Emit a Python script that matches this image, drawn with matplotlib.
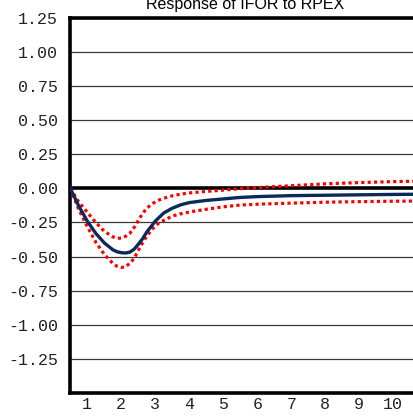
import numpy as np
import matplotlib.pyplot as plt

# periods (fine steps to follow the smooth curve of the picture)
periodo = [0.5, 0.75, 1.0, 1.25, 1.5, 1.75, 1.875, 2.0, 2.125, 2.25, 2.375,
           2.5, 2.625, 2.75, 2.875, 3.0, 3.125, 3.25, 3.5, 3.75, 4.0, 4.5,
           5.0, 5.5, 6.0, 7.0, 8.0, 9.0, 10.0, 11.0]
respuesta = [0.0, -0.13, -0.24, -0.33, -0.40, -0.45, -0.465, -0.472, -0.474,
             -0.468, -0.447, -0.41, -0.37, -0.32, -0.28, -0.24, -0.21, -0.18,
             -0.145, -0.12, -0.104, -0.088, -0.077, -0.066, -0.06, -0.053,
             -0.05, -0.047, -0.044, -0.042]
banda_sup = [0.0, -0.10, -0.175, -0.25, -0.315, -0.355, -0.366, -0.365,
             -0.352, -0.33, -0.288, -0.235, -0.185, -0.145, -0.12, -0.098,
             -0.083, -0.072, -0.054, -0.042, -0.033, -0.022, -0.012, -0.002,
             0.006, 0.02, 0.034, 0.043, 0.05, 0.055]
banda_inf = [0.0, -0.155, -0.28, -0.395, -0.485, -0.55, -0.572, -0.58,
             -0.575, -0.55, -0.515, -0.455, -0.40, -0.35, -0.31, -0.275,
             -0.25, -0.235, -0.203, -0.186, -0.173, -0.153, -0.135, -0.122,
             -0.116, -0.108, -0.101, -0.097, -0.094, -0.092]
xticks = list(range(1, 11))
yticks = [1.25, 1.0, 0.75, 0.5, 0.25, 0.0, -0.25, -0.5, -0.75, -1.0, -1.25]

fig = plt.figure(figsize=(4.13, 4.17), dpi=100)
ax = fig.add_axes([0.1702, 0.0583, 0.848, 0.898])

for y in yticks:
    if y != 0:
        ax.axhline(y, color="#3a3a3a", lw=0.9, zorder=1)
ax.axhline(0, color="black", lw=2.6, zorder=2)

ax.plot(periodo, banda_sup, color="red", lw=2.3, ls=(0, (1, 1)), zorder=3)
ax.plot(periodo, banda_inf, color="red", lw=2.3, ls=(0, (1, 1)), zorder=3)
ax.plot(periodo, respuesta, color="#0b2a5c", lw=2.4, zorder=4,
        solid_joinstyle="round")

ax.set_xlim(0.5, 10.8)
ax.set_ylim(-1.5, 1.25)
ax.set_xticks(xticks)
ax.set_yticks(yticks)
ax.set_yticklabels(["%.2f" % v for v in yticks])
ax.tick_params(axis="y", length=0, labelsize=12, pad=9, labelcolor="#222222")
ax.tick_params(axis="x", length=0, labelsize=12, pad=3, labelcolor="#222222")
for lab in ax.get_xticklabels() + ax.get_yticklabels():
    lab.set_family("Liberation Mono")

for s in ["left", "top", "bottom"]:
    ax.spines[s].set_linewidth(2.6)
ax.spines["right"].set_visible(False)

fig.text(245 / 413, 1 - 4 / 417, "Response of IFOR to RPEX", ha="center",
         va="center", fontsize=11.5, family="Liberation Sans")

plt.savefig("out.png", dpi=100)
